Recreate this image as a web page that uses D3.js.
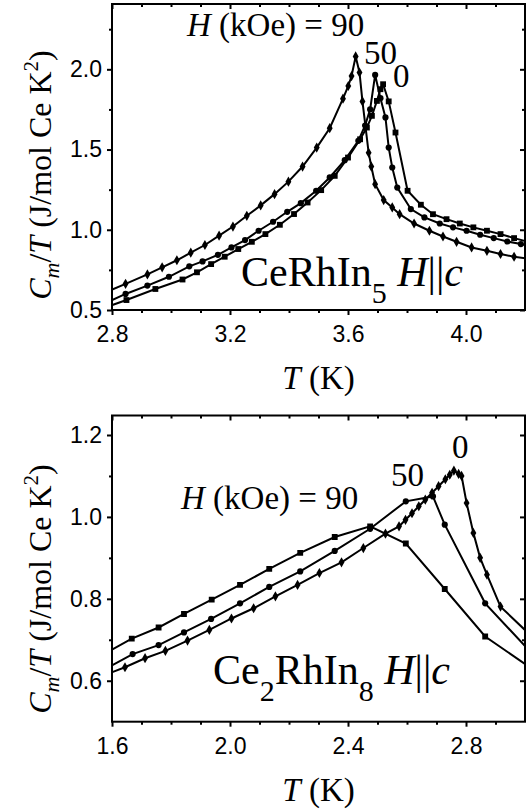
<!DOCTYPE html>
<html>
<head>
<meta charset="utf-8">
<script src="https://cdn.jsdelivr.net/npm/d3@7"></script>
<style>
body { margin: 0; background: #fff; }
svg { display: block; }
.axis line { stroke: #000; stroke-width: 2; }
.axis text { font-family: "Liberation Sans", Arial, sans-serif; font-size: 23px; fill: #000; }
.serif { font-family: "Liberation Serif", "Times New Roman", serif; fill: #000; }
.curve { fill: none; stroke: #000; stroke-width: 2; }
</style>
</head>
<body>
<script>
const WIDTH = 532;
const HEIGHT = 812;
const LEFT = 112;
const RIGHT = 525;

// CeRhIn5, H || c  (T in K, Cm/T in J/mol Ce K^2)
var rh5T_90 = [2.78, 2.846, 2.92, 2.97, 3.02, 3.067, 3.115, 3.163, 3.21, 3.257, 3.304, 3.351, 3.398, 3.446, 3.494, 3.538, 3.583, 3.601, 3.612, 3.626, 3.639, 3.649, 3.67, 3.679, 3.692, 3.721, 3.75, 3.775, 3.824, 3.876, 3.922, 3.968, 4.019, 4.071, 4.117, 4.163, 4.21];
var rh5C_90 = [0.612, 0.663, 0.722, 0.766, 0.81, 0.857, 0.905, 0.963, 1.02, 1.087, 1.152, 1.222, 1.30, 1.394, 1.512, 1.633, 1.817, 1.896, 1.958, 2.08, 1.98, 1.80, 1.48, 1.394, 1.284, 1.185, 1.139, 1.097, 1.039, 0.994, 0.958, 0.925, 0.89, 0.869, 0.849, 0.832, 0.82];

var rh5T_50 = [2.78, 2.846, 2.92, 2.993, 3.062, 3.107, 3.159, 3.205, 3.251, 3.297, 3.346, 3.394, 3.44, 3.492, 3.538, 3.589, 3.635, 3.658, 3.675, 3.692, 3.71, 3.727, 3.738, 3.75, 3.767, 3.813, 3.859, 3.911, 3.956, 4.002, 4.048, 4.094, 4.14, 4.186, 4.21];
var rh5C_50 = [0.545, 0.60, 0.652, 0.707, 0.772, 0.803, 0.844, 0.89, 0.936, 0.994, 1.05, 1.112, 1.166, 1.243, 1.326, 1.434, 1.554, 1.65, 1.75, 1.965, 1.82, 1.70, 1.512, 1.388, 1.263, 1.129, 1.077, 1.039, 1.015, 0.994, 0.969, 0.948, 0.927, 0.911, 0.90];

var rh5T_0 = [2.78, 2.849, 2.947, 3.039, 3.088, 3.136, 3.182, 3.228, 3.274, 3.32, 3.369, 3.417, 3.463, 3.509, 3.555, 3.6, 3.641, 3.664, 3.681, 3.698, 3.71, 3.719, 3.738, 3.761, 3.802, 3.847, 3.888, 3.934, 3.979, 4.025, 4.071, 4.117, 4.163, 4.21];
var rh5C_0 = [0.517, 0.562, 0.631, 0.69, 0.735, 0.786, 0.832, 0.88, 0.925, 0.973, 1.031, 1.098, 1.17, 1.247, 1.336, 1.45, 1.564, 1.637, 1.71, 1.803, 1.876, 1.907, 1.80, 1.606, 1.243, 1.156, 1.097, 1.066, 1.039, 1.015, 0.994, 0.973, 0.948, 0.925];

// Ce2RhIn8, H || c
var rh8T_90 = [1.58, 1.667, 1.758, 1.844, 1.938, 2.034, 2.133, 2.238, 2.355, 2.475, 2.596, 2.728, 2.865, 3.01];
var rh8C_90 = [0.668, 0.703, 0.73, 0.763, 0.798, 0.834, 0.873, 0.912, 0.951, 0.977, 0.935, 0.824, 0.708, 0.636];

var rh8T_50 = [1.58, 1.67, 1.758, 1.844, 1.936, 2.034, 2.133, 2.238, 2.355, 2.475, 2.596, 2.688, 2.728, 2.865, 3.01];
var rh8C_50 = [0.63, 0.665, 0.687, 0.718, 0.751, 0.789, 0.829, 0.867, 0.917, 0.971, 1.038, 1.05, 0.981, 0.789, 0.677];

var rh8T_0 = [1.58, 1.644, 1.712, 1.781, 1.856, 1.93, 2.005, 2.08, 2.154, 2.229, 2.303, 2.378, 2.452, 2.527, 2.573, 2.595, 2.617, 2.64, 2.662, 2.685, 2.707, 2.73, 2.745, 2.759, 2.775, 2.785, 2.802, 2.825, 2.848, 2.871, 2.917, 3.01];
var rh8C_0 = [0.615, 0.633, 0.655, 0.673, 0.698, 0.724, 0.752, 0.777, 0.806, 0.834, 0.863, 0.889, 0.924, 0.959, 0.977, 0.993, 1.009, 1.026, 1.042, 1.059, 1.075, 1.092, 1.103, 1.113, 1.105, 1.10, 1.034, 0.961, 0.90, 0.859, 0.781, 0.717];

// axis ticks
var rh5XMajor = [2.8, 3.2, 3.6, 4.0];
var rh5XMinor = [2.9, 3.0, 3.1, 3.3, 3.4, 3.5, 3.7, 3.8, 3.9, 4.1];
var rh5YMajor = [0.5, 1.0, 1.5, 2.0];
var rh5YMinor = [0.75, 1.25, 1.75, 2.25];

var rh8XMajor = [1.6, 2.0, 2.4, 2.8];
var rh8XMinor = [1.7, 1.8, 1.9, 2.1, 2.2, 2.3, 2.5, 2.6, 2.7, 2.9];
var rh8YMajor = [0.6, 0.8, 1.0, 1.2];
var rh8YMinor = [0.7, 0.9, 1.1];

var zip = function (xs, ys) {
    return xs.map(function (x, i) { return [x, ys[i]]; });
};

var svg = d3.select('body').append('svg')
    .attr('width', WIDTH)
    .attr('height', HEIGHT);

// text made of runs: {t, it, size, dy}
var richText = function (sel, runs) {
    runs.forEach(function (r) {
        var ts = sel.append('tspan').text(r.t);
        if (r.it) ts.attr('font-style', 'italic');
        if (r.size) ts.attr('font-size', r.size);
        if (r.dy) ts.attr('dy', r.dy);
    });
    return sel;
};

var drawPanel = function (p) {
    var x = d3.scaleLinear().domain(p.xDomain).range([LEFT, RIGHT]);
    var y = d3.scaleLinear().domain(p.yDomain).range([p.bottom, p.top]);

    var g = svg.append('g');

    g.append('clipPath').attr('id', p.id + '-clip')
        .append('rect')
        .attr('x', LEFT).attr('y', p.top)
        .attr('width', RIGHT - LEFT).attr('height', p.bottom - p.top);

    // axes: bottom/left ticks out, top/right ticks in
    var fmt = d3.format('.1f');
    var addAxis = function (axis, tx, ty) {
        var a = g.append('g')
            .attr('class', 'axis')
            .attr('transform', 'translate(' + tx + ',' + ty + ')')
            .call(axis);
        a.select('.domain').remove();
        return a;
    };
    addAxis(d3.axisBottom(x).tickValues(p.xMajor).tickSize(5).tickPadding(11).tickFormat(fmt), 0, p.bottom);
    addAxis(d3.axisBottom(x).tickValues(p.xMinor).tickSize(3).tickFormat(''), 0, p.bottom);
    addAxis(d3.axisLeft(y).tickValues(p.yMajor).tickSize(5).tickPadding(5).tickFormat(fmt), LEFT, 0);
    addAxis(d3.axisLeft(y).tickValues(p.yMinor).tickSize(3).tickFormat(''), LEFT, 0);
    addAxis(d3.axisTop(x).tickValues(p.xMajor).tickSize(-5).tickFormat(''), 0, p.top);
    addAxis(d3.axisTop(x).tickValues(p.xMinor).tickSize(-3).tickFormat(''), 0, p.top);
    addAxis(d3.axisRight(y).tickValues(p.yMajor).tickSize(-5).tickFormat(''), RIGHT, 0);
    addAxis(d3.axisRight(y).tickValues(p.yMinor).tickSize(-3).tickFormat(''), RIGHT, 0);

    var line = d3.line()
        .x(function (d) { return x(d[0]); })
        .y(function (d) { return y(d[1]); })
        .curve(d3.curveLinear);

    var plot = g.append('g').attr('clip-path', 'url(#' + p.id + '-clip)');
    p.series.forEach(function (s) {
        var pts = zip(s.t, s.c);
        plot.append('path').attr('class', 'curve').attr('d', line(pts));
        var sym = d3.symbol().type(s.symbol).size(s.size);
        plot.selectAll(null)
            .data(pts)
            .enter()
            .append('path')
            .attr('d', sym)
            .attr('fill', '#000')
            .attr('transform', function (d) {
                return 'translate(' + x(d[0]) + ',' + y(d[1]) + ')';
            });
    });

    g.append('rect')
        .attr('x', LEFT).attr('y', p.top)
        .attr('width', RIGHT - LEFT).attr('height', p.bottom - p.top)
        .attr('fill', 'none').attr('stroke', '#000').attr('stroke-width', 2);

    // axis titles
    richText(g.append('text').attr('class', 'serif')
        .attr('x', (LEFT + RIGHT) / 2).attr('y', p.bottom + 79)
        .attr('text-anchor', 'middle').attr('font-size', 33),
        [{t: 'T', it: true}, {t: ' (K)'}]);

    richText(g.append('text').attr('class', 'serif')
        .attr('transform', 'translate(51,' + p.yTitleY + ') rotate(-90)')
        .attr('text-anchor', 'middle').attr('font-size', 32),
        [{t: 'C', it: true}, {t: 'm', it: true, size: 22, dy: 8},
         {t: '/', dy: -8}, {t: 'T', it: true}, {t: ' (J/mol Ce K'},
         {t: '2', size: 21, dy: -13}, {t: ')', dy: 13}]);

    // annotations
    richText(g.append('text').attr('class', 'serif')
        .attr('x', p.hLabel[0]).attr('y', p.hLabel[1]).attr('font-size', 33),
        [{t: 'H', it: true}, {t: ' (kOe) = 90'}]);
    g.append('text').attr('class', 'serif')
        .attr('x', p.lab50[0]).attr('y', p.lab50[1]).attr('font-size', 33).text('50');
    g.append('text').attr('class', 'serif')
        .attr('x', p.lab0[0]).attr('y', p.lab0[1]).attr('font-size', 33).text('0');
    richText(g.append('text').attr('class', 'serif')
        .attr('x', p.compound[0]).attr('y', p.compound[1]).attr('font-size', 42),
        p.compoundRuns);
};

drawPanel({
    id: 'rh5',
    top: 4, bottom: 310,
    xDomain: [2.8, 4.2], yDomain: [0.5, 2.407],
    xMajor: rh5XMajor, xMinor: rh5XMinor, yMajor: rh5YMajor, yMinor: rh5YMinor,
    series: [
        {t: rh5T_90, c: rh5C_90, symbol: d3.symbolDiamond, size: 30},
        {t: rh5T_50, c: rh5C_50, symbol: d3.symbolCircle, size: 30},
        {t: rh5T_0, c: rh5C_0, symbol: d3.symbolSquare, size: 34}
    ],
    yTitleY: 175,
    hLabel: [187, 36], lab50: [364, 64], lab0: [393, 87],
    compound: [241, 286],
    compoundRuns: [{t: 'CeRhIn'}, {t: '5', size: 30, dy: 17}, {t: ' ', dy: -17},
                   {t: 'H', it: true}, {t: '||'}, {t: 'c', it: true}]
});

drawPanel({
    id: 'rh8',
    top: 415.5, bottom: 721.7,
    xDomain: [1.6, 3.0], yDomain: [0.5, 1.2476],
    xMajor: rh8XMajor, xMinor: rh8XMinor, yMajor: rh8YMajor, yMinor: rh8YMinor,
    series: [
        {t: rh8T_90, c: rh8C_90, symbol: d3.symbolSquare, size: 34},
        {t: rh8T_50, c: rh8C_50, symbol: d3.symbolCircle, size: 30},
        {t: rh8T_0, c: rh8C_0, symbol: d3.symbolDiamond, size: 30}
    ],
    yTitleY: 589,
    hLabel: [181, 509], lab50: [391, 486], lab0: [452, 458],
    compound: [213, 684],
    compoundRuns: [{t: 'Ce'}, {t: '2', size: 30, dy: 17}, {t: 'RhIn', dy: -17},
                   {t: '8', size: 30, dy: 17}, {t: ' ', dy: -17},
                   {t: 'H', it: true}, {t: '||'}, {t: 'c', it: true}]
});
</script>
</body>
</html>
